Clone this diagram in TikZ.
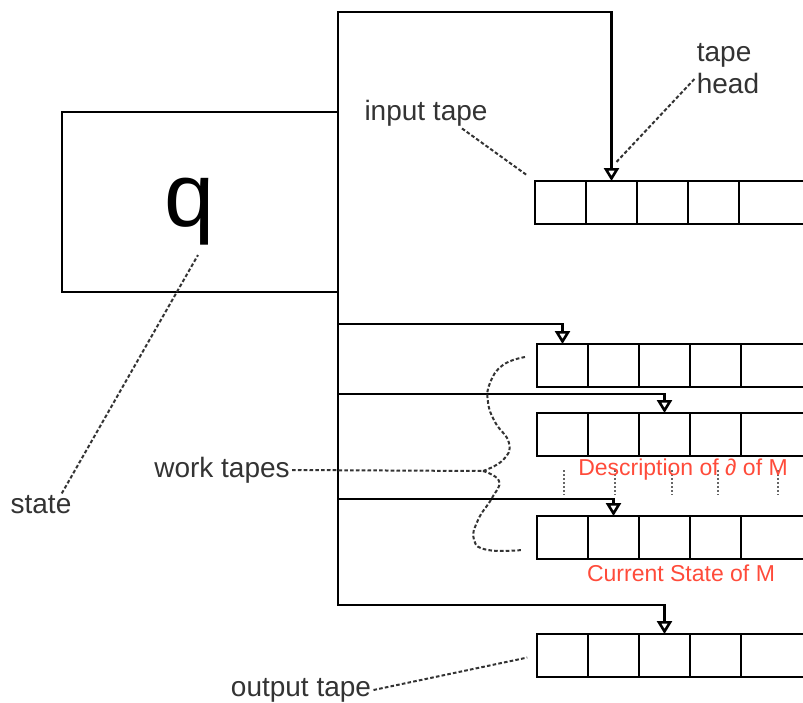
\documentclass[tikz,border=0pt]{standalone}
\usepackage{fontspec}
\setmainfont{Liberation Sans}
\usetikzlibrary{arrows.meta}

\definecolor{notered}{HTML}{FF4B3A}

\tikzset{
  cell/.style={draw, rectangle, line width=1.3pt, minimum width=25.5pt,
    minimum height=21.5pt, inner sep=0pt, outer sep=0pt, anchor=north west},
  head/.style={draw, line width=1.3pt, -{Triangle[open, length=6.5pt, width=7.5pt]}},
  leader/.style={draw, line width=1pt, black!80, dash pattern=on 1.8pt off 1.1pt},
  vdots/.style={draw, line width=1pt, black!60, dash pattern=on 1pt off 1pt},
  lbl/.style={text=black!80, font=\fontsize{14}{16}\selectfont, inner sep=1pt},
  note/.style={text=notered, font=\fontsize{11.5}{13}\selectfont, inner sep=1pt}
}

\begin{document}
\begin{tikzpicture}[x=0.5pt, y=-0.5pt]

      \useasboundingbox (0,0) rectangle (803,702);
      \clip (0,0) rectangle (803,702);

      % finite control
      \node[draw, line width=1.3pt, minimum width=138pt, minimum height=90pt,
            inner sep=0pt, outer sep=0pt, anchor=north west] (ctrl) at (62,112) {};
      \node[font=\fontsize{45}{50}\selectfont, inner sep=0pt] (qsym) at (190,212) {q};

      % tapes: input, three work tapes, output
      \foreach \t/\x/\y in {in/535/181, wa/537/344, wb/537/413, wc/537/516, out/537/634} {
        \foreach \i in {1,...,4}
          \node[cell] (\t\i) at ({\x+51*(\i-1)},\y) {};
        \node[cell, minimum width=50pt] (\t5) at ({\x+204},\y) {};
      }

      % heads
      \draw[head] (ctrl.north east) -- ++(0,-100) -| (in2.north);
      \draw[head] (ctrl.east |- 0,324) -| (wa1.north);
      \draw[head] (ctrl.east |- 0,394) -| (wb3.north);
      \draw[head] (ctrl.east |- 0,499) -| (wc2.north);
      \draw[head] (ctrl.south east) -- ++(0,313) -| (out3.north);

      % dots between the work tapes
      \foreach \x in {564,615,672,718,778}
        \draw[vdots] (\x,470) -- (\x,495);

      \node[note] (desc) at (683,470) {Description of ∂ of M};
      \node[note] (cur)  at (681,573) {Current State of M};

      % brace over the work tapes
      \coordinate (brace tip) at (483,471);
      \draw[leader] plot[smooth, tension=0.8] coordinates
        {(525,357) (503,365) (490,383) (488,402) (495,422) (509,443) (503,460) (brace tip)};
      \draw[leader] plot[smooth, tension=0.8] coordinates
        {(brace tip) (499,481) (492,498) (478,520) (474,540) (488,550) (522,550)};

      % labels
      \coordinate (qfoot) at (198,255);
      \node[lbl] (statelbl) at (41,505) {state};
      \node[lbl] (inlbl)    at (426,113) {input tape};
      \node[lbl, align=left] (headlbl) at (728,69) {tape\\head};
      \node[lbl] (worklbl)  at (222,470) {work tapes};
      \node[lbl] (outlbl)   at (301,690) {output tape};

      \path[leader] ([xshift=-6pt]statelbl.north east) edge (qfoot);
      \path[leader] ([xshift=18pt]inlbl.south) edge[shorten >=5pt] (in1.north west);
      \path[leader] ([yshift=-5pt]headlbl.west) edge ([xshift=2pt,yshift=9pt]in2.north);
      \path[leader] (worklbl.east) edge (brace tip);
      \path[leader] (outlbl.east) edge[shorten >=5pt] (out1.west);

    \end{tikzpicture}
\end{document}
